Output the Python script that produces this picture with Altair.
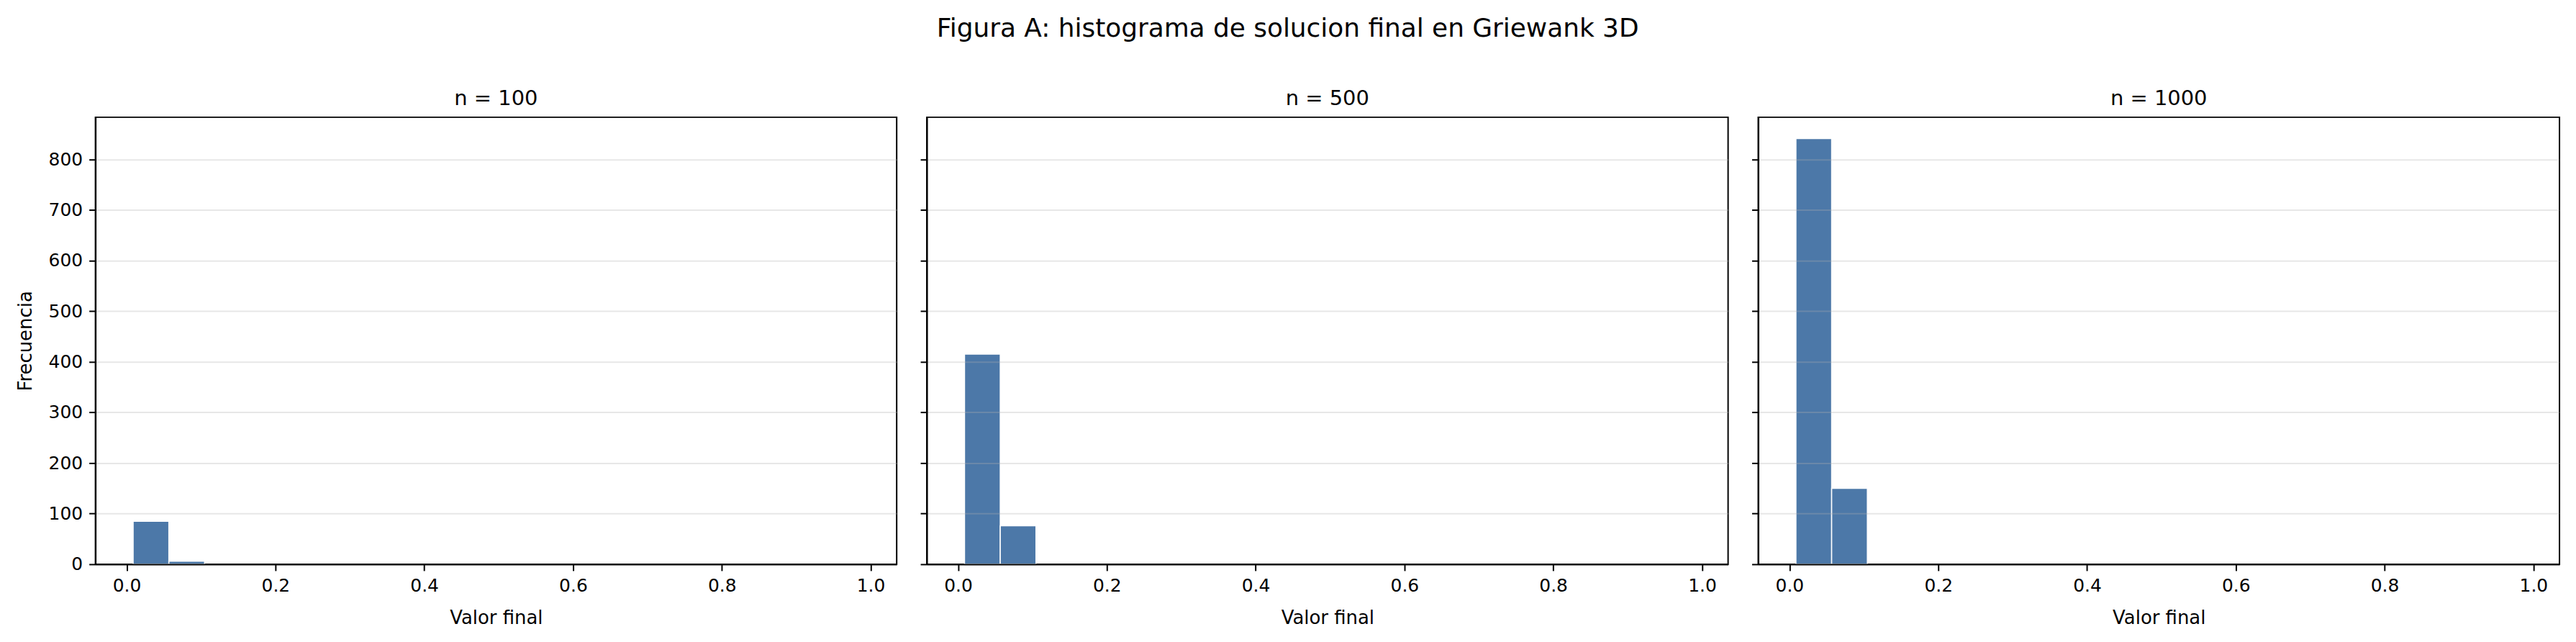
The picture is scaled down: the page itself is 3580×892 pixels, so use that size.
import altair as alt
import pandas as pd

FONT = "DejaVu Sans"

# ---- data ----
panel_titles = ["n = 100", "n = 500", "n = 1000"]
bin_left = [0.0087, 0.0567]
bin_right = [0.0567, 0.1047]
counts_n100 = [85, 6]
counts_n500 = [415, 76]
counts_n1000 = [841, 150]
x_ticks = [0.0, 0.2, 0.4, 0.6, 0.8, 1.0]
y_ticks = [0, 100, 200, 300, 400, 500, 600, 700, 800]

suptitle = "Figura A: histograma de solucion final en Griewank 3D"
x_title = "Valor final"
y_title = "Frecuencia"

W, H = 1117, 623
BAR = "#4c78a8"


def panel(title, counts, first):
    df = pd.DataFrame({"x0": bin_left, "x1": bin_right, "count": counts})
    yaxis = alt.Axis(
        values=y_ticks,
        title=y_title if first else None,
        labels=first,
        grid=True,
        gridColor="#b0b0b0",
        gridOpacity=0.3,
        gridWidth=2,
        zindex=1,
    )
    xaxis = alt.Axis(values=x_ticks, format=".1f", title=x_title, grid=False, zindex=1)
    return (
        alt.Chart(
            df,
            title=alt.TitleParams(
                title, fontSize=29, font=FONT, fontWeight="normal", anchor="middle",
                baseline="bottom", offset=-18, color="black",
            ),
        )
        .mark_bar(color=BAR, stroke="white", strokeWidth=1.5)
        .encode(
            x=alt.X("x0:Q", scale=alt.Scale(domain=[-0.042, 1.035], nice=False, zero=False), axis=xaxis),
            x2="x1:Q",
            y=alt.Y("count:Q", scale=alt.Scale(domain=[0, 883], nice=False), axis=yaxis),
            y2=alt.datum(0),
        )
        .properties(width=W, height=H)
    )


chart = (
    alt.hconcat(
        panel(panel_titles[0], counts_n100, True),
        panel(panel_titles[1], counts_n500, False),
        panel(panel_titles[2], counts_n1000, False),
        spacing=30,
    )
    .properties(
        title=alt.TitleParams(
            suptitle, fontSize=36, font=FONT, fontWeight="normal", anchor="middle",
            frame="bounds", offset=63, color="black",
        ),
        padding={"left": 13, "top": 13, "right": 14, "bottom": 10},
        background="white",
    )
    .configure_view(stroke="black", strokeWidth=2)
    .configure_axis(
        labelFont=FONT,
        titleFont=FONT,
        labelFontSize=25,
        titleFontSize=26,
        titleFontWeight="normal",
        labelColor="black",
        titleColor="black",
        domainColor="black",
        domainWidth=2,
        tickColor="black",
        tickWidth=2,
        tickSize=9,
        labelPadding=9,
        titlePadding=19,
    )
)

chart.save("out.html", embed_options={"renderer": "svg", "actions": False})
